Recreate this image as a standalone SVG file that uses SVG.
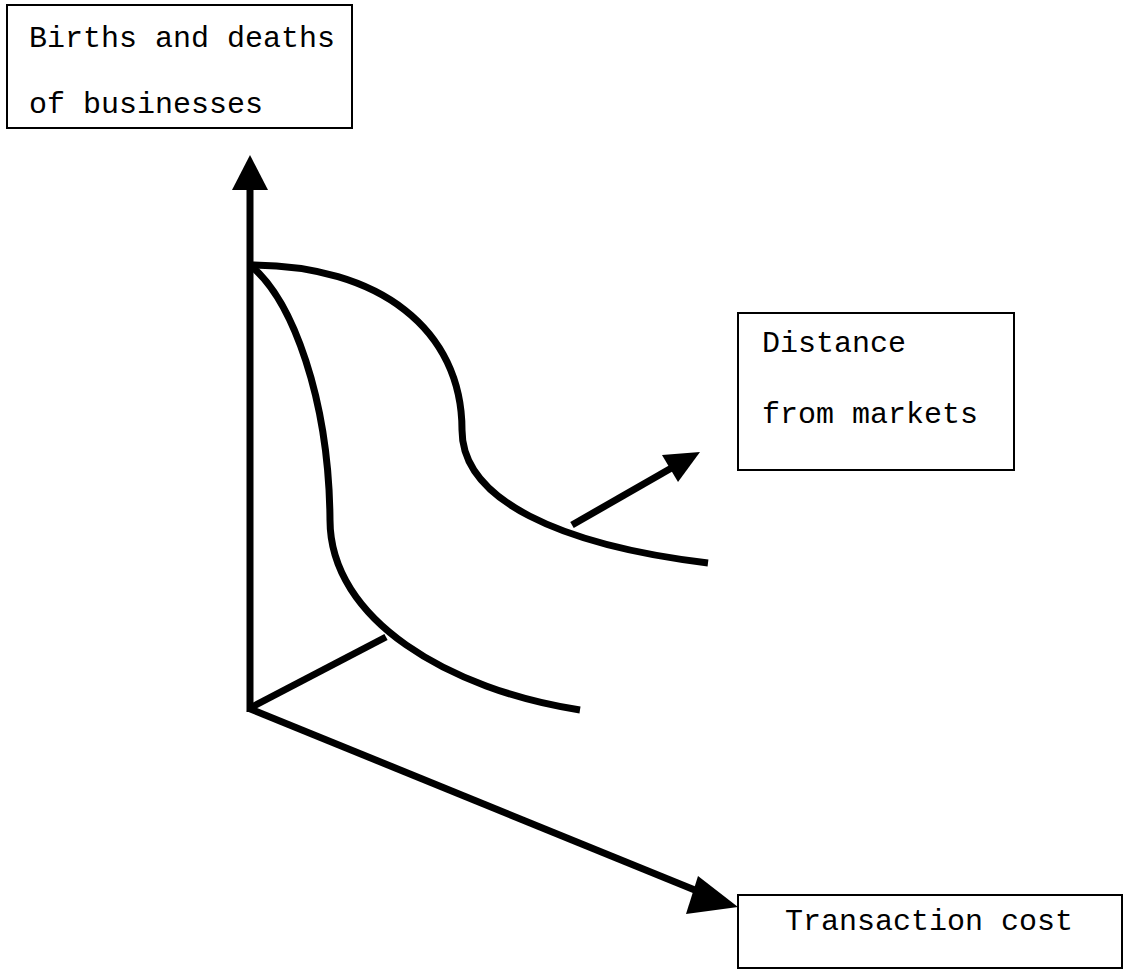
<svg xmlns="http://www.w3.org/2000/svg" width="1124" height="978" viewBox="0 0 1124 978">
<style>
.box{fill:#fff;stroke:#000;stroke-width:2}
.lbl{font-family:"Liberation Mono","Courier New",monospace;font-size:30px;fill:#000}
.ln{fill:none;stroke:#000;stroke-width:7}
</style>
<rect width="1124" height="978" fill="#fff"/>
<g id="connectors">
<line class="ln" x1="250" y1="188" x2="250" y2="712"/>
<polygon points="250,155 232,190 268,190" fill="#000"/>
<line class="ln" x1="248" y1="708" x2="712" y2="897"/>
<polygon points="738,907 698,876 686,914" fill="#000"/>
<line class="ln" x1="250" y1="708" x2="386" y2="637"/>
<line class="ln" x1="572" y1="525" x2="675" y2="466"/>
<polygon points="700,452 662,455 678,482" fill="#000"/>
<path id="curve-upper" class="ln" d="M250,265 C380,265 462,330 462,430 C462,500 560,545 708,563"/>
<path id="curve-lower" class="ln" d="M250,265 C293,300 329,400 330,520 C330,620 450,690 580,710"/>
</g>
<g id="node-births">
<rect class="box" x="7" y="5" width="345" height="123"/>
<text class="lbl" x="29" y="47">Births and deaths</text>
<text class="lbl" x="29" y="113">of businesses</text>
</g>
<g id="node-distance">
<rect class="box" x="738" y="313" width="276" height="157"/>
<text class="lbl" x="762" y="352">Distance</text>
<text class="lbl" x="762" y="423">from markets</text>
</g>
<g id="node-transaction">
<rect class="box" x="738" y="895" width="384" height="73"/>
<text class="lbl" x="785" y="930">Transaction cost</text>
</g>
</svg>
